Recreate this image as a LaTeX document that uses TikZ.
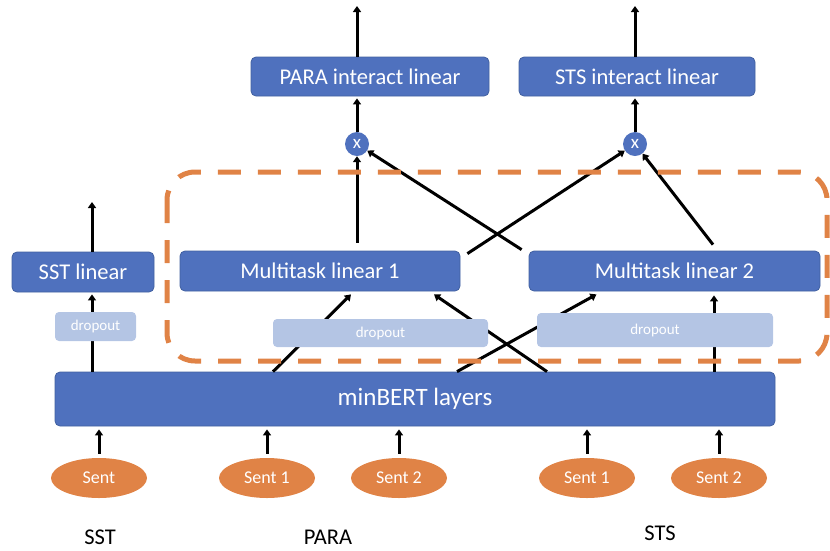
\documentclass[tikz,border=0pt]{standalone}
\usepackage{fontspec}
\setmainfont{Carlito}
\usetikzlibrary{arrows.meta,shapes.geometric}
\definecolor{boxblue}{RGB}{79,113,190}
\definecolor{boxedge}{RGB}{65,96,160}
\definecolor{droplight}{RGB}{180,197,228}
\definecolor{taskorange}{RGB}{224,131,70}
\begin{document}
\begin{tikzpicture}[x=1pt, y=-1pt,
    bluebox/.style={draw=boxedge, line width=0.8pt, fill=boxblue, rounded corners=5pt, text=white, inner sep=0pt, font=\fontsize{22.5}{27}\selectfont},
    dropbox/.style={fill=droplight, rounded corners=4pt, text=white, inner sep=0pt, font=\fontsize{15}{18}\selectfont},
    sent/.style={ellipse, fill=taskorange, text=white, minimum width=96pt, minimum height=40pt, inner sep=0pt, font=\fontsize{18}{21}\selectfont},
    mul/.style={circle, fill=boxblue, text=white, minimum size=24pt, inner sep=0pt, font=\fontsize{19}{22}\selectfont},
    arr/.style={line width=3pt, -{Triangle[length=6pt,width=8pt]}},
    tasklabel/.style={inner sep=0pt, font=\fontsize{22.5}{27}\selectfont}]
    \useasboundingbox (0,0) rectangle (830,550);
    \node[bluebox, minimum width=720pt, minimum height=54pt, font=\fontsize{25}{30}\selectfont] (bert) at (415,399) {minBERT layers};
    \node[bluebox, minimum width=142pt, minimum height=40pt] (sst) at (83,272) {SST linear};
    \node[bluebox, minimum width=280pt, minimum height=40pt] (mlone) at (320,271) {Multitask linear 1};
    \node[bluebox, minimum width=291pt, minimum height=40pt] (mltwo) at (674.5,271) {Multitask linear 2};
    \node[bluebox, minimum width=238pt, minimum height=39pt] (para) at (370,76.5) {PARA interact linear};
    \node[bluebox, minimum width=236pt, minimum height=39pt] (sts) at (637,76.5) {STS interact linear};
    \node[mul] (pmul) at (357,144) {x};
    \node[mul] (smul) at (635,144) {x};
    \coordinate (sstout) at (92,202);
    \coordinate (paraout) at (357,6);
    \coordinate (stsout) at (635,6);

    \draw[arr] ([xshift=-323pt]bert.north) -- ([xshift=9pt,yshift=-2pt]sst.south);
    \draw[arr] ([xshift=9pt]sst.north) -- (sstout);
    \draw[arr] ([xshift=-142pt]bert.north) -- ([xshift=31pt,yshift=-3pt]mlone.south);
    \draw[arr] ([xshift=132pt]bert.north) -- ([xshift=114pt,yshift=-3pt]mlone.south);
    \draw[arr] ([xshift=42pt]bert.north) -- ([xshift=-78pt,yshift=-3pt]mltwo.south);
    \draw[arr] ([xshift=299pt]bert.north) -- ([xshift=39.5pt,yshift=-4pt]mltwo.south);
    \draw[arr] ([xshift=37pt,yshift=8pt]mlone.north) -- (pmul);
    \draw[arr] ([xshift=7pt,yshift=-3pt]mlone.north east) -- (smul);
    \draw[arr] ([xshift=-7pt,yshift=1pt]mltwo.north west) -- (pmul);
    \draw[arr] ([xshift=38.5pt,yshift=6pt]mltwo.north) -- (smul);
    \draw[arr] (pmul) -- ([xshift=-13pt,yshift=-2pt]para.south);
    \draw[arr] (smul) -- ([xshift=-2pt,yshift=-2pt]sts.south);
    \draw[arr] ([xshift=-13pt]para.north) -- (paraout);
    \draw[arr] ([xshift=-2pt]sts.north) -- (stsout);

    \node[dropbox, minimum width=81pt, minimum height=29pt] (sstdrop) at (95.5,326.5) {dropout};
    \node[dropbox, minimum width=215pt, minimum height=28pt] (paradrop) at (380.5,333) {dropout};
    \node[dropbox, minimum width=236pt, minimum height=34pt] (stsdrop) at (655,330) {dropout};

    \draw[taskorange, line width=5pt, dash pattern=on 23pt off 17pt, rounded corners=28pt] (167,172) rectangle (827,361);

    \node[sent] (sa) at (99,478) {Sent};
    \node[sent] (pa) at (267,478) {Sent 1};
    \node[sent] (pb) at (399,478) {Sent 2};
    \node[sent] (sta) at (587,478) {Sent 1};
    \node[sent] (stb) at (719,478) {Sent 2};
    \foreach \s in {sa,pa,pb,sta,stb}
        \draw[arr, shorten <=4pt, shorten >=3pt] (\s) -- (\s |- bert.south);

    \node[tasklabel] (ssttask) at (100,537) {SST};
    \node[tasklabel] (paratask) at (328,537) {PARA};
    \node[tasklabel] (ststask) at (660,533) {STS};
\end{tikzpicture}
\end{document}
